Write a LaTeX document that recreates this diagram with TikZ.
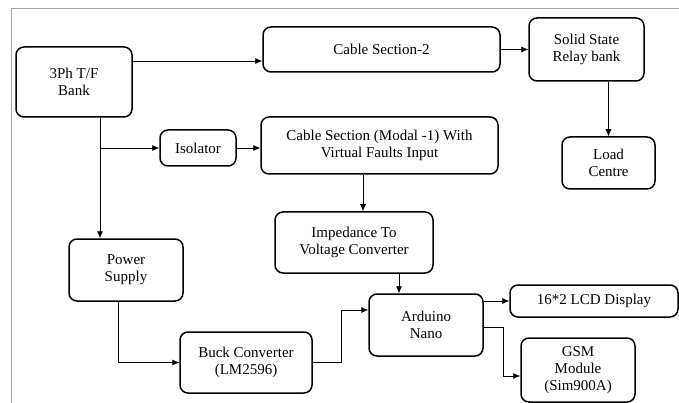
\documentclass[tikz,border=0pt]{standalone}
\usepackage{fontspec}
\setmainfont{Liberation Serif}
\usetikzlibrary{arrows.meta,positioning,calc}

\begin{document}
\begin{tikzpicture}[x=1pt,y=-1pt,
box/.style={rectangle,rounded corners=8pt,draw,line width=1.5pt,align=center,
inner sep=2pt,font=\fontsize{15}{17}\selectfont},
arrow/.style={-{Latex[length=7pt,width=6pt]},semithick}]
\useasboundingbox (0,0) rectangle (679,403);
\draw[gray!70] (11,403) -- (11,8) -- (679,8);
\node[box,minimum width=116pt,minimum height=70pt] (bank) at (74,82) {3Ph T/F\\Bank};
\node[box,minimum width=237pt,minimum height=45pt] (cabtwo) at (381.5,49.5) {Cable Section-2};
\node[box,minimum width=115pt,minimum height=63pt] (relay) at (586.5,49.5) {Solid State\\Relay bank};
\node[box,minimum width=93pt,minimum height=52pt] (load) at (608.5,163) {Load\\Centre};
\node[box,minimum width=76pt,minimum height=36pt] (isolator) at (198,148) {Isolator};
\node[box,minimum width=237pt,minimum height=57pt] (cabone) at (379.5,145.5) {Cable Section (Modal -1) With\\Virtual Faults Input};
\node[box,minimum width=158pt,minimum height=61pt] (imped) at (354,242.5) {Impedance To\\Voltage Converter};
\node[box,minimum width=114pt,minimum height=62pt] (power) at (126,270) {Power\\Supply};
\node[box,minimum width=132pt,minimum height=61pt] (buck) at (246,362.5) {Buck Converter\\(LM2596)};
\node[box,minimum width=114pt,minimum height=62pt] (nano) at (426,325) {Arduino\\Nano};
\node[box,minimum width=168pt,minimum height=32pt] (lcd) at (594,301) {16*2 LCD Display};
\node[box,minimum width=114pt,minimum height=64pt] (gsm) at (578,370) {GSM\\Module\\(Sim900A)};
\coordinate (split) at (100,148);
\draw[arrow] ([yshift=21pt]bank.east) -- ([yshift=21pt]bank.east -| cabtwo.west);
\draw[arrow] (cabtwo) -- (relay);
\draw[arrow] (relay.south -| load.north) -- (load.north);
\draw[arrow] (bank.south -| split) -- (power.north -| split);
\draw[arrow] (split) -- (isolator.west);
\draw[arrow] (isolator.east) -- (isolator.east -| cabone.west);
\draw[arrow] ([xshift=-16.5pt]cabone.south) -- ([xshift=-16.5pt]cabone.south |- imped.north);
\draw[arrow] ([xshift=45pt]imped.south) -- ([xshift=45pt]imped.south |- nano.north);
\draw[arrow] ([xshift=-8pt]power.south) |- (buck.west);
\draw[arrow] (buck.east) -- ++(29,0) |- ([yshift=15pt]nano.west);
\draw[arrow] (nano.east |- lcd.west) -- (lcd.west);
\draw[arrow] ([yshift=-2pt]nano.east) -- ++(20,0) |- ([yshift=-6pt]gsm.west);
\end{tikzpicture}
\end{document}
